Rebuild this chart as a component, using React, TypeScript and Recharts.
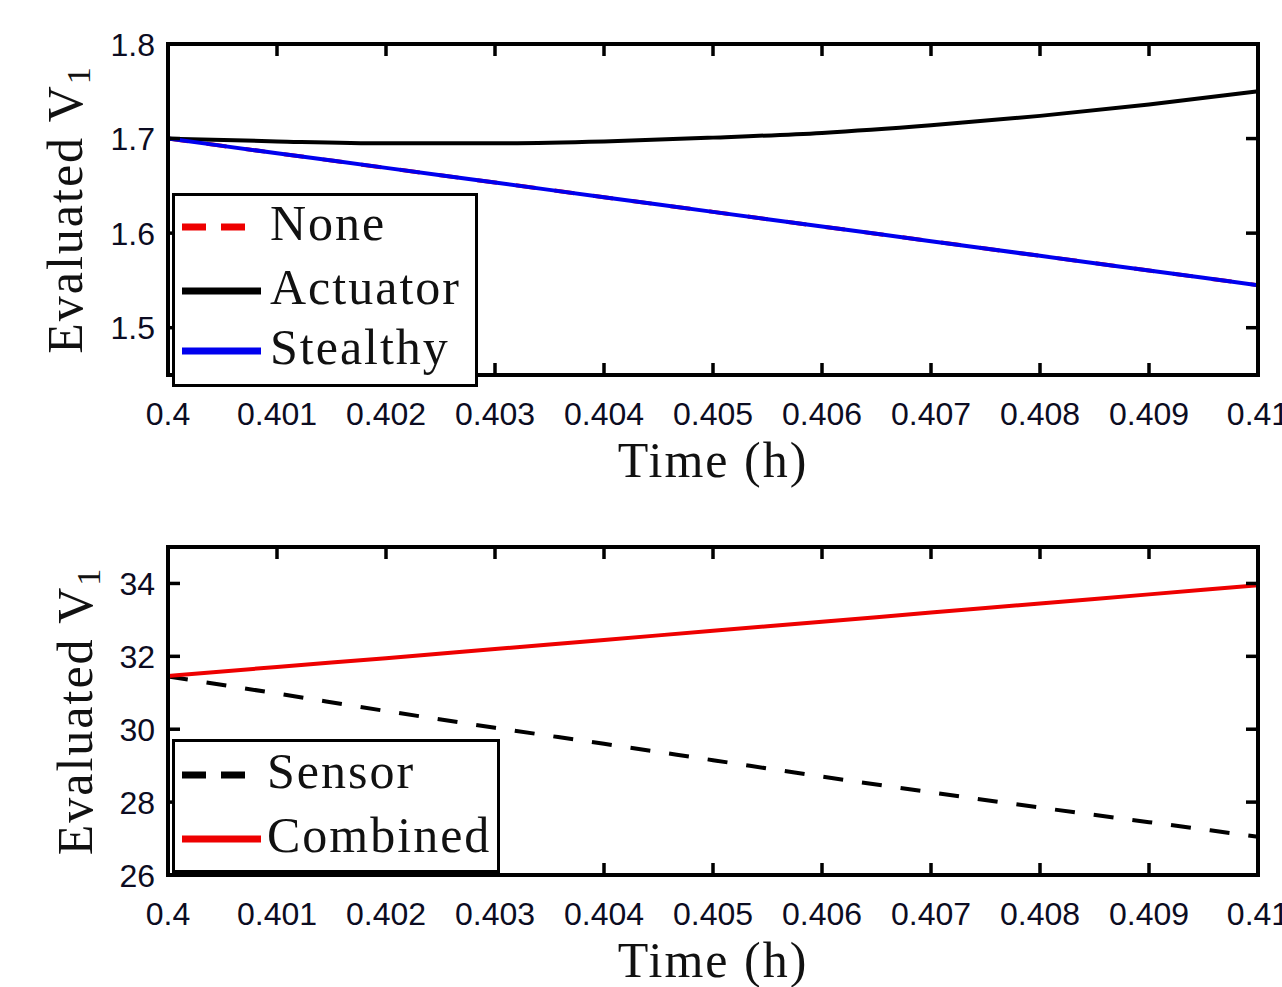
import React from 'react';
import { LineChart, Line, XAxis, YAxis, Legend } from 'recharts';

// ---------- data ----------
const timeH = [0.4, 0.401, 0.402, 0.403, 0.404, 0.405, 0.406, 0.407, 0.408, 0.409, 0.41];
const xTickLabels = ['0.4', '0.401', '0.402', '0.403', '0.404', '0.405', '0.406', '0.407', '0.408', '0.409', '0.41'];

const noneV = [1.7, 1.6845, 1.669, 1.6535, 1.638, 1.6225, 1.607, 1.5915, 1.576, 1.5605, 1.545];
const actuatorV = [1.7, 1.697, 1.695, 1.695, 1.697, 1.701, 1.706, 1.714, 1.724, 1.736, 1.75];
const stealthyV = [1.7, 1.6845, 1.669, 1.6535, 1.638, 1.6225, 1.607, 1.5915, 1.576, 1.5605, 1.545];

const sensorV = [31.45, 30.98, 30.5, 30.04, 29.6, 29.15, 28.7, 28.27, 27.85, 27.45, 27.05];
const combinedV = [31.46, 31.71, 31.95, 32.2, 32.45, 32.7, 32.95, 33.2, 33.45, 33.7, 33.95];

const topYTicks = [1.5, 1.6, 1.7, 1.8];
const topYTickLabels = ['1.5', '1.6', '1.7', '1.8'];
const bottomYTicks = [26, 28, 30, 32, 34];
const bottomYTickLabels = ['26', '28', '30', '32', '34'];

const topDomain = [1.45, 1.8];
const bottomDomain = [26, 35];
const xDomain = [0.4, 0.41];

const topSeries = [
  { key: 'none', name: 'None', color: '#ee0000', dash: '20 19' },
  { key: 'actuator', name: 'Actuator', color: '#000000', dash: undefined },
  { key: 'stealthy', name: 'Stealthy', color: '#0000ee', dash: undefined },
];
const bottomSeries = [
  { key: 'sensor', name: 'Sensor', color: '#000000', dash: '20 19' },
  { key: 'combined', name: 'Combined', color: '#ee0000', dash: undefined },
];

const topData = timeH.map((t, i) => ({ t, none: noneV[i], actuator: actuatorV[i], stealthy: stealthyV[i] }));
const bottomData = timeH.map((t, i) => ({ t, sensor: sensorV[i], combined: combinedV[i] }));

// ---------- styling helpers ----------
const SANS = "'Liberation Sans', Arial, sans-serif";
const SERIF = "'Liberation Serif', 'Times New Roman', serif";
const AXIS_LINE = { stroke: '#000', strokeWidth: 4, strokeLinecap: 'square' as const };
const TICK_LEN = 12;
const TICK_W = 3.5;

function labelFor(value: number, ticks: number[], labels: string[]) {
  let best = 0;
  for (let i = 0; i < ticks.length; i++) {
    if (Math.abs(ticks[i] - value) < Math.abs(ticks[best] - value)) best = i;
  }
  return labels[best];
}

const XTickBottom = (props: any) => {
  const { x, y, payload } = props;
  return (
    <g>
      <line x1={x} x2={x} y1={y} y2={y - TICK_LEN} stroke="#000" strokeWidth={TICK_W} />
      <text x={x} y={y + 50} textAnchor="middle" fontFamily={SANS} fontSize={32} fill="#0c0c22">
        {labelFor(payload.value, timeH, xTickLabels)}
      </text>
    </g>
  );
};

const XTickTop = (props: any) => {
  const { x, y } = props;
  return <line x1={x} x2={x} y1={y} y2={y + TICK_LEN} stroke="#000" strokeWidth={TICK_W} />;
};

const makeYTickLeft = (ticks: number[], labels: string[]) => (props: any) => {
  const { x, y, payload } = props;
  return (
    <g>
      <line x1={x} x2={x + TICK_LEN} y1={y} y2={y} stroke="#000" strokeWidth={TICK_W} />
      <text x={x - 13} y={y + 11.5} textAnchor="end" fontFamily={SANS} fontSize={32} fill="#0c0c22">
        {labelFor(payload.value, ticks, labels)}
      </text>
    </g>
  );
};

const YTickRight = (props: any) => {
  const { x, y } = props;
  return <line x1={x} x2={x - TICK_LEN} y1={y} y2={y} stroke="#000" strokeWidth={TICK_W} />;
};

const XLabel = (props: any) => {
  const vb = props.viewBox || {};
  return (
    <text x={vb.x + vb.width / 2} y={vb.y + 102} textAnchor="middle" fontFamily={SERIF} fontSize={50} letterSpacing={2} fill="#111">
      Time (h)
    </text>
  );
};

const makeYLabel = (xPos: number) => (props: any) => {
  const vb = props.viewBox || {};
  const cy = vb.y + vb.height / 2;
  return (
    <text
      x={xPos}
      y={cy}
      transform={`rotate(-90, ${xPos}, ${cy})`}
      textAnchor="middle"
      fontFamily={SERIF}
      fontSize={50}
      letterSpacing={2}
      fill="#111"
    >
      Evaluated V<tspan dy={8} fontSize={34}>1</tspan>
    </text>
  );
};

type Item = { name: string; color: string; dash?: string };

const LegendBox = ({ w, h, items, rowY, textX }: { w: number; h: number; items: Item[]; rowY: number[]; textX: number }) => (
  <svg width={w} height={h} style={{ display: 'block' }}>
    <rect x={1.5} y={1.5} width={w - 3} height={h - 3} fill="#fff" stroke="#000" strokeWidth={3} />
    {items.map((it, i) => (
      <g key={it.name}>
        <line
          x1={10}
          x2={it.dash ? 74 : 89}
          y1={rowY[i]}
          y2={rowY[i]}
          stroke={it.color}
          strokeWidth={7}
          strokeDasharray={it.dash ? '24 15' : undefined}
        />
        <text x={textX} y={rowY[i] + 13} fontFamily={SERIF} fontSize={50} letterSpacing={2} fill="#111">
          {it.name}
        </text>
      </g>
    ))}
  </svg>
);

export default function App() {
  return (
    <div style={{ position: 'absolute', left: 0, top: 0, width: 1282, height: 987, overflow: 'hidden', background: '#fff' }}>
      <div style={{ position: 'absolute', left: 0, top: 0 }}>
        <LineChart width={1282} height={500} data={topData} margin={{ top: 43, right: 23, left: 0, bottom: 0 }}>
          <XAxis
            dataKey="t"
            type="number"
            domain={xDomain}
            ticks={timeH}
            allowDataOverflow
            height={125}
            tickSize={0}
            tickMargin={0}
            axisLine={AXIS_LINE}
            tickLine={false}
            tick={<XTickBottom />}
            interval={0}
            label={<XLabel />}
          />
          <XAxis
            xAxisId="top"
            orientation="top"
            dataKey="t"
            type="number"
            domain={xDomain}
            ticks={timeH}
            allowDataOverflow
            height={1}
            tickSize={0}
            tickMargin={0}
            axisLine={AXIS_LINE}
            tickLine={false}
            tick={<XTickTop />}
            interval={0}
          />
          <YAxis
            type="number"
            domain={topDomain}
            ticks={topYTicks}
            allowDataOverflow
            width={168}
            tickSize={0}
            tickMargin={0}
            axisLine={AXIS_LINE}
            tickLine={false}
            tick={makeYTickLeft(topYTicks, topYTickLabels)}
            interval={0}
            label={makeYLabel(82)}
          />
          <YAxis
            yAxisId="right"
            orientation="right"
            type="number"
            domain={topDomain}
            ticks={topYTicks}
            allowDataOverflow
            width={1}
            tickSize={0}
            tickMargin={0}
            axisLine={AXIS_LINE}
            tickLine={false}
            tick={<YTickRight />}
            interval={0}
          />
          <Line
            xAxisId="top"
            yAxisId="right"
            dataKey="actuator"
            stroke="none"
            strokeWidth={0}
            dot={false}
            activeDot={false}
            legendType="none"
            isAnimationActive={false}
          />
          {topSeries.map((s) => (
            <Line
              key={s.key}
              dataKey={s.key}
              name={s.name}
              stroke={s.color}
              strokeWidth={4}
              strokeDasharray={s.dash}
              dot={false}
              type="monotone"
              isAnimationActive={false}
            />
          ))}
          <Legend
            layout="vertical"
            align="center"
            verticalAlign="middle"
            wrapperStyle={{ left: 172, top: 193, width: 306, height: 194, right: 'auto', bottom: 'auto' }}
            content={() => <LegendBox w={306} h={194} items={topSeries} rowY={[34, 98, 158]} textX={98} />}
          />
        </LineChart>
      </div>
      <div style={{ position: 'absolute', left: 0, top: 500 }}>
        <LineChart width={1282} height={487} data={bottomData} margin={{ top: 46, right: 23, left: 0, bottom: 0 }}>
          <XAxis
            dataKey="t"
            type="number"
            domain={xDomain}
            ticks={timeH}
            allowDataOverflow
            height={112}
            tickSize={0}
            tickMargin={0}
            axisLine={AXIS_LINE}
            tickLine={false}
            tick={<XTickBottom />}
            interval={0}
            label={<XLabel />}
          />
          <XAxis
            xAxisId="top"
            orientation="top"
            dataKey="t"
            type="number"
            domain={xDomain}
            ticks={timeH}
            allowDataOverflow
            height={1}
            tickSize={0}
            tickMargin={0}
            axisLine={AXIS_LINE}
            tickLine={false}
            tick={<XTickTop />}
            interval={0}
          />
          <YAxis
            type="number"
            domain={bottomDomain}
            ticks={bottomYTicks}
            allowDataOverflow
            width={168}
            tickSize={0}
            tickMargin={0}
            axisLine={AXIS_LINE}
            tickLine={false}
            tick={makeYTickLeft(bottomYTicks, bottomYTickLabels)}
            interval={0}
            label={makeYLabel(92)}
          />
          <YAxis
            yAxisId="right"
            orientation="right"
            type="number"
            domain={bottomDomain}
            ticks={bottomYTicks}
            allowDataOverflow
            width={1}
            tickSize={0}
            tickMargin={0}
            axisLine={AXIS_LINE}
            tickLine={false}
            tick={<YTickRight />}
            interval={0}
          />
          <Line
            xAxisId="top"
            yAxisId="right"
            dataKey="combined"
            stroke="none"
            strokeWidth={0}
            dot={false}
            activeDot={false}
            legendType="none"
            isAnimationActive={false}
          />
          {bottomSeries.map((s) => (
            <Line
              key={s.key}
              dataKey={s.key}
              name={s.name}
              stroke={s.color}
              strokeWidth={4}
              strokeDasharray={s.dash}
              dot={false}
              type="monotone"
              isAnimationActive={false}
            />
          ))}
          <Legend
            layout="vertical"
            align="center"
            verticalAlign="middle"
            wrapperStyle={{ left: 172, top: 239, width: 328, height: 134, right: 'auto', bottom: 'auto' }}
            content={() => <LegendBox w={328} h={134} items={bottomSeries} rowY={[36, 100]} textX={95} />}
          />
        </LineChart>
      </div>
    </div>
  );
}
